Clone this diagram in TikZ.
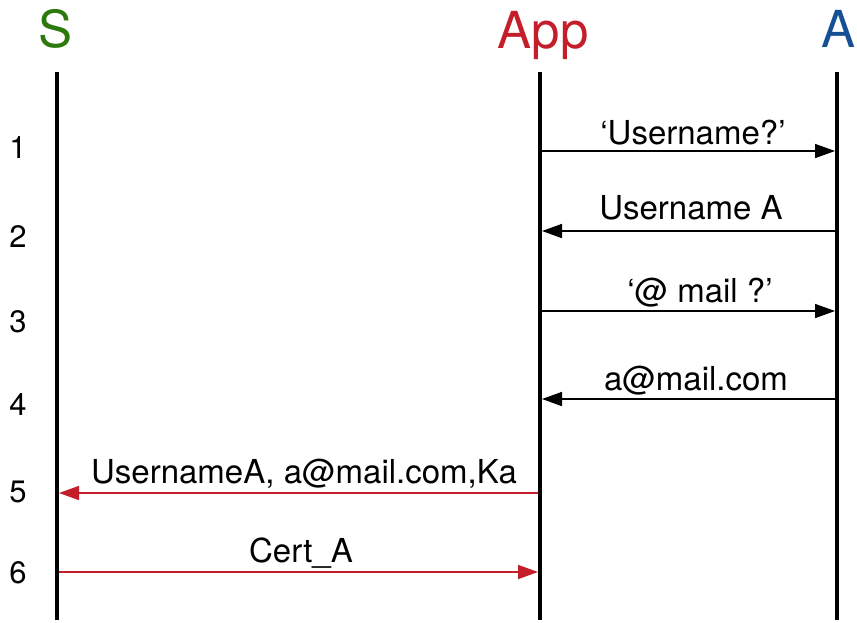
\documentclass[tikz,border=0pt]{standalone}
\usepackage{fontspec}
\setmainfont{TeX Gyre Heros}
\usetikzlibrary{arrows.meta}
\definecolor{sgreen}{RGB}{45,122,12}
\definecolor{appred}{RGB}{196,30,42}
\definecolor{ablue}{RGB}{22,80,148}
\begin{document}
\begin{tikzpicture}[x=1pt,y=-1pt,
  lifeline/.style={line width=4pt},
  msg/.style={line width=1.6pt,-{Triangle[length=20pt,width=14pt]}},
  redmsg/.style={msg,draw=appred,-{Triangle[length=20pt,width=14pt,fill=appred]}},
  head/.style={font=\fontsize{51}{56}\selectfont,inner sep=0pt,anchor=base},
  lbl/.style={font=\fontsize{33}{36}\selectfont,inner sep=0pt,anchor=base},
  num/.style={font=\fontsize{31}{34}\selectfont,inner sep=0pt}]
\useasboundingbox (0,0) rectangle (857,622);
% headers
\node[head,text=sgreen] (hS) at (56,47) {S};
\node[head,text=appred] (hApp) at (543,48) {App};
\node[head,text=ablue] (hA) at (838,47) {A};
% lifelines
\coordinate (S0) at (57,72); \coordinate (S1) at (57,620);
\coordinate (P0) at (540,72); \coordinate (P1) at (540,620);
\coordinate (A0) at (837,72); \coordinate (A1) at (837,620);
\draw[lifeline] (S0) -- (S1);
\draw[lifeline] (P0) -- (P1);
\draw[lifeline] (A0) -- (A1);
% message endpoints
\coordinate (p1) at (542,151); \coordinate (a1) at (835,151);
\coordinate (p2) at (542,231); \coordinate (a2) at (835,231);
\coordinate (p3) at (542,311); \coordinate (a3) at (835,311);
\coordinate (p4) at (542,399); \coordinate (a4) at (835,399);
\coordinate (p5) at (538,493); \coordinate (s5) at (59,493);
\coordinate (p6) at (538,572); \coordinate (s6) at (59,572);
\draw[msg] (p1) -- (a1);
\draw[msg] (a2) -- (p2);
\draw[msg] (p3) -- (a3);
\draw[msg] (a4) -- (p4);
\draw[redmsg] (p5) -- (s5);
\draw[redmsg] (s6) -- (p6);
% labels
\node[lbl] (l1) at (693,144) {‘Username?’};
\node[lbl] (l2) at (691,219) {Username A};
\node[lbl] (l3) at (700,302) {‘@ mail ?’};
\node[lbl] (l4) at (696,390) {a@mail.com};
\node[lbl] (l5) at (304,483) {UsernameA, a@mail.com,Ka};
\node[lbl] (l6) at (301,562) {Cert\_A};
% row numbers
\node[num] (n1) at (18,148) {1};
\node[num] (n2) at (18,237) {2};
\node[num] (n3) at (18,322) {3};
\node[num] (n4) at (18,405) {4};
\node[num] (n5) at (18,492) {5};
\node[num] (n6) at (18,573) {6};
\end{tikzpicture}
\end{document}
